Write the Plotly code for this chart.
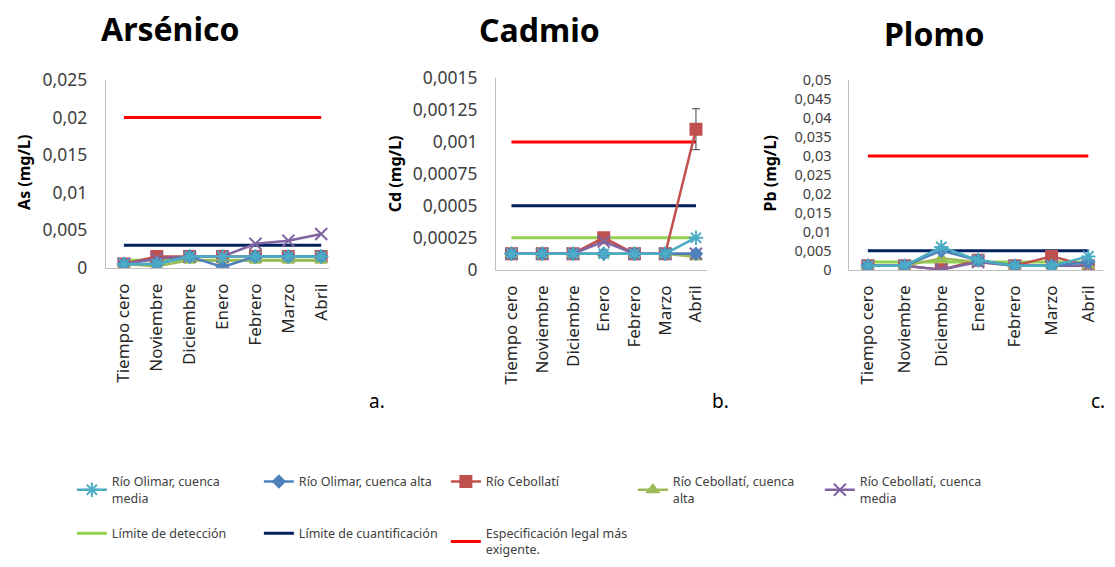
import plotly.graph_objects as go

# Sampling months
categories = ["Tiempo cero", "Noviembre", "Diciembre", "Enero", "Febrero", "Marzo", "Abril"]

# Arsénico (mg/L)
as_olimar_media = [0.0005, 0.0005, 0.0015, 0.0015, 0.0015, 0.0015, 0.0015]
as_olimar_alta = [0.0005, 0.0005, 0.0015, 0.0001, 0.0015, 0.0015, 0.0015]
as_cebollati = [0.0005, 0.0015, 0.0015, 0.0015, 0.0015, 0.0015, 0.0015]
as_cebollati_alta = [0.0005, 0.0002, 0.001, 0.001, 0.001, 0.001, 0.001]
as_cebollati_media = [0.0005, 0.0012, 0.0015, 0.0015, 0.0032, 0.0036, 0.0045]
as_deteccion = 0.001
as_cuantificacion = 0.003
as_especificacion = 0.02

# Cadmio (mg/L)
cd_olimar_media = [0.000125, 0.000125, 0.000125, 0.000125, 0.000125, 0.000125, 0.00025]
cd_olimar_alta = [0.000125, 0.000125, 0.000125, 0.000125, 0.000125, 0.000125, 0.000125]
cd_cebollati = [0.000125, 0.000125, 0.000125, 0.00025, 0.000125, 0.000125, 0.0011]
cd_cebollati_err = [0, 0, 0, 0, 0, 0, 0.00016]
cd_cebollati_alta = [0.000125, 0.000125, 0.000125, 0.000125, 0.000125, 0.000125, 0.0001]
cd_cebollati_media = [0.000125, 0.000125, 0.000125, 0.00022, 0.000125, 0.000125, 0.000125]
cd_deteccion = 0.00025
cd_cuantificacion = 0.0005
cd_especificacion = 0.001

# Plomo (mg/L)
pb_olimar_media = [0.001, 0.001, 0.006, 0.0025, 0.001, 0.001, 0.0035]
pb_olimar_alta = [0.001, 0.001, 0.005, 0.0025, 0.001, 0.001, 0.002]
pb_cebollati = [0.001, 0.001, 0.0, 0.0025, 0.001, 0.0035, 0.001]
pb_cebollati_alta = [0.001, 0.001, 0.003, 0.002, 0.001, 0.001, 0.001]
pb_cebollati_media = [0.001, 0.001, 0.0, 0.002, 0.001, 0.001, 0.001]
pb_deteccion = 0.002
pb_cuantificacion = 0.005
pb_especificacion = 0.03

# Y tick values and labels
as_ticks = [0, 0.005, 0.01, 0.015, 0.02, 0.025]
as_ticklabels = ["0", "0,005", "0,01", "0,015", "0,02", "0,025"]
cd_ticks = [0, 0.00025, 0.0005, 0.00075, 0.001, 0.00125, 0.0015]
cd_ticklabels = ["0", "0,00025", "0,0005", "0,00075", "0,001", "0,00125", "0,0015"]
pb_ticks = [0, 0.005, 0.01, 0.015, 0.02, 0.025, 0.03, 0.035, 0.04, 0.045, 0.05]
pb_ticklabels = ["0", "0,005", "0,01", "0,015", "0,02", "0,025", "0,03", "0,035",
                 "0,04", "0,045", "0,05"]

names = {
    "om": "Río Olimar, cuenca<br>media",
    "oa": "Río Olimar, cuenca alta",
    "c": "Río Cebollatí",
    "ca": "Río Cebollatí, cuenca<br>alta",
    "cm": "Río Cebollatí, cuenca<br>media",
    "det": "Límite de detección",
    "cua": "Límite de cuantificación",
    "esp": "Especificación legal más<br>exigente.",
}
colors = {
    "om": "#4BACC6", "oa": "#4F81BD", "c": "#C0504D", "ca": "#9BBB59",
    "cm": "#8064A2", "det": "#92D050", "cua": "#002060", "esp": "#FF0000",
}
symbols = {
    "om": "asterisk-open", "oa": "diamond", "c": "square",
    "ca": "triangle-up", "cm": "x-thin-open",
}
sizes = {"om": 12, "oa": 9, "c": 11, "ca": 10, "cm": 12}
rank = {"om": 1, "oa": 2, "c": 3, "ca": 4, "cm": 5, "det": 6, "cua": 7, "esp": 8}

panels = [
    dict(x="x", y="y",
         series={"c": as_cebollati, "ca": as_cebollati_alta, "cm": as_cebollati_media,
                 "oa": as_olimar_alta, "om": as_olimar_media},
         limits={"det": as_deteccion, "cua": as_cuantificacion, "esp": as_especificacion},
         err=None),
    dict(x="x2", y="y2",
         series={"c": cd_cebollati, "ca": cd_cebollati_alta, "cm": cd_cebollati_media,
                 "oa": cd_olimar_alta, "om": cd_olimar_media},
         limits={"det": cd_deteccion, "cua": cd_cuantificacion, "esp": cd_especificacion},
         err=cd_cebollati_err),
    dict(x="x3", y="y3",
         series={"c": pb_cebollati, "ca": pb_cebollati_alta, "cm": pb_cebollati_media,
                 "oa": pb_olimar_alta, "om": pb_olimar_media},
         limits={"det": pb_deteccion, "cua": pb_cuantificacion, "esp": pb_especificacion},
         err=None),
]

fig = go.Figure()
for i, p in enumerate(panels):
    show = i == 0
    for key, lim in p["limits"].items():
        fig.add_trace(go.Scatter(
            x=categories, y=[lim] * len(categories), mode="lines",
            line=dict(color=colors[key], width=3), name=names[key],
            xaxis=p["x"], yaxis=p["y"], showlegend=show, legendrank=rank[key],
            legend="legend2", hoverinfo="skip"))
    for key, vals in p["series"].items():
        err = None
        if key == "c" and p["err"] is not None:
            err = dict(type="data", array=p["err"], visible=True,
                       color="#404040", thickness=1, width=4)
        fig.add_trace(go.Scatter(
            x=categories, y=vals, mode="lines+markers",
            line=dict(color=colors[key], width=2.5),
            marker=dict(symbol=symbols[key], size=sizes[key], color=colors[key],
                        line=dict(color=colors[key], width=2)),
            error_y=err, name=names[key], xaxis=p["x"], yaxis=p["y"],
            showlegend=show, legendrank=rank[key], legend="legend"))

W, H = 1115, 567
font = "Noto Sans"
axis_gray = "#BFBFBF"


def xdom(a, b):
    return [a / W, b / W]


def ydom(top, bottom):
    return [1 - bottom / H, 1 - top / H]


xcommon = dict(type="category", showgrid=False, showline=True, linecolor=axis_gray,
               linewidth=1, ticks="", tickangle=-90, ticklabelstandoff=8,
               tickfont=dict(family=font, size=17, color="#262626"), zeroline=False)
ycommon = dict(showgrid=False, showline=True, linecolor=axis_gray, linewidth=1,
               ticks="", ticklabelstandoff=14, zeroline=False)

legend_common = dict(orientation="h", x=72 / W, xanchor="left", yanchor="top",
                     entrywidth=142, entrywidthmode="pixels", itemwidth=30,
                     font=dict(family=font, size=12.5, color="#404040"),
                     bgcolor="rgba(0,0,0,0)", traceorder="normal")

fig.update_layout(
    width=W, height=H, margin=dict(l=0, r=0, t=0, b=0),
    plot_bgcolor="white", paper_bgcolor="white",
    xaxis=dict(domain=xdom(106, 330), range=[-0.55, 6.25], anchor="y", **xcommon),
    yaxis=dict(domain=ydom(70, 266), range=[0, 0.025], tickvals=as_ticks,
               ticktext=as_ticklabels, anchor="x",
               tickfont=dict(family=font, size=17.5, color="#404040"), **ycommon),
    xaxis2=dict(domain=xdom(497, 708), range=[-0.5, 6.35], anchor="y2", **xcommon),
    yaxis2=dict(domain=ydom(68, 268), range=[0, 0.0015], tickvals=cd_ticks,
                ticktext=cd_ticklabels, anchor="x2",
                tickfont=dict(family=font, size=17.5, color="#404040"), **ycommon),
    xaxis3=dict(domain=xdom(851, 1105), range=[-0.5, 6.4], anchor="y3", **xcommon),
    yaxis3=dict(domain=ydom(70, 268), range=[0, 0.05], tickvals=pb_ticks,
                ticktext=pb_ticklabels, anchor="x3",
                tickfont=dict(family=font, size=14.5, color="#404040"), **ycommon),
    legend=dict(y=1 - 474 / H, **legend_common),
    legend2=dict(y=1 - 528 / H, **legend_common),
)

annotations = [
    dict(text="<b>Arsénico</b>", x=171 / W, y=1 - 16 / H, size=32),
    dict(text="<b>Cadmio</b>", x=540 / W, y=1 - 17 / H, size=32),
    dict(text="<b>Plomo</b>", x=936 / W, y=1 - 21 / H, size=32),
    dict(text="a.", x=378 / W, y=1 - 405 / H, size=19),
    dict(text="b.", x=722 / W, y=1 - 405 / H, size=19),
    dict(text="c.", x=1100 / W, y=1 - 405 / H, size=19),
]
for a in annotations:
    fig.add_annotation(text=a["text"], x=a["x"], y=a["y"], xref="paper", yref="paper",
                       showarrow=False, xanchor="center", yanchor="middle",
                       font=dict(family=font, size=a["size"], color="#000000"))

ytitles = [
    dict(text="<b>As (mg/L)</b>", x=24, y=166),
    dict(text="<b>Cd (mg/L)</b>", x=396, y=168),
    dict(text="<b>Pb (mg/L)</b>", x=771, y=168),
]
for t in ytitles:
    fig.add_annotation(text=t["text"], x=t["x"] / W, y=1 - t["y"] / H, xref="paper",
                       yref="paper", showarrow=False, textangle=-90,
                       xanchor="center", yanchor="middle",
                       font=dict(family=font, size=16, color="#000000"))

fig.write_html("out.html")
